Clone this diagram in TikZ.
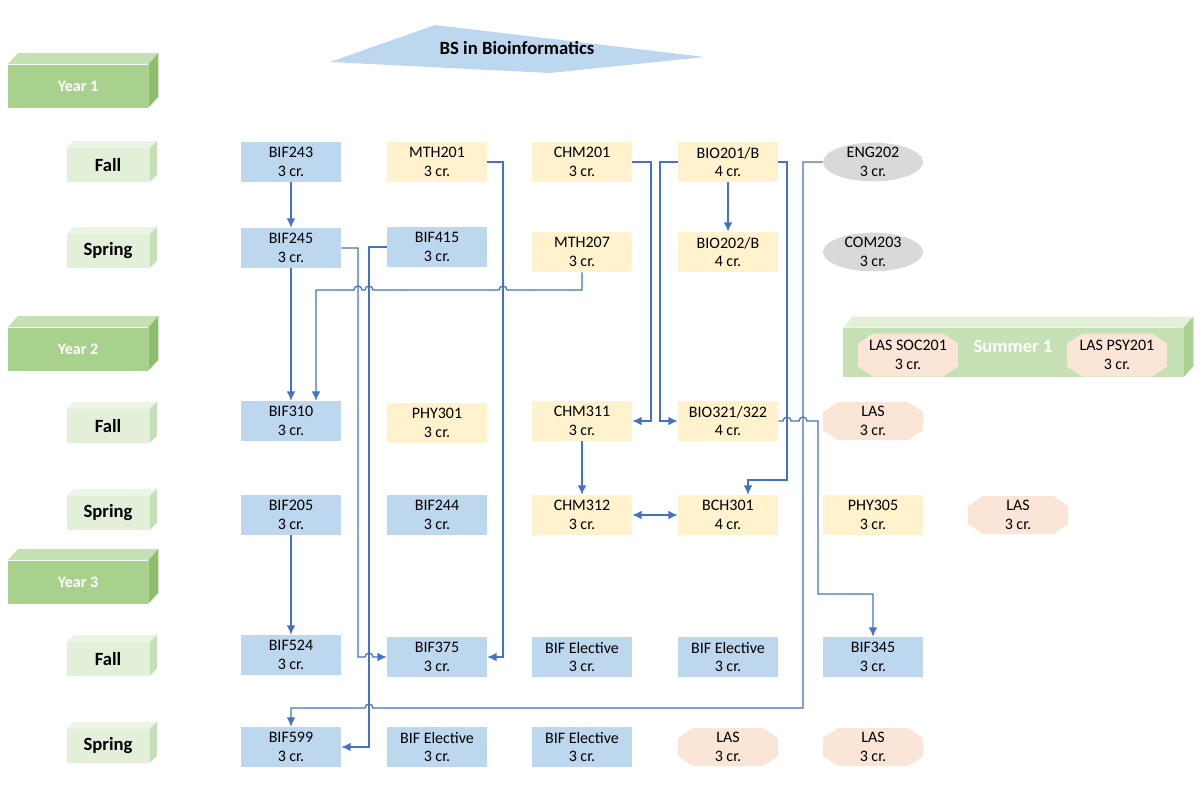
\documentclass[tikz,border=0pt]{standalone}
\usepackage{fontspec}
\setmainfont{Carlito}
\usetikzlibrary{arrows.meta}

\definecolor{bifblue}{HTML}{BDD7EE}
\definecolor{coreyellow}{HTML}{FFF2CC}
\definecolor{genedgrey}{HTML}{D9D9D9}
\definecolor{laspeach}{HTML}{FBE5D6}
\definecolor{linkblue}{HTML}{4472C4}
\definecolor{yearfront}{HTML}{A9D18E}
\definecolor{yeartop}{HTML}{C5E0B4}
\definecolor{yearside}{HTML}{8DBF6B}
\definecolor{termfront}{HTML}{E2F0D9}
\definecolor{termtop}{HTML}{EBF5E5}
\definecolor{termside}{HTML}{C5E0B4}

\begin{document}
\begin{tikzpicture}[x=0.75pt, y=-0.75pt, >={Latex[length=7pt,width=6.5pt]},
    course/.style={minimum width=75pt, minimum height=30pt, inner sep=0pt, align=center, font=\fontsize{12}{13.8}\selectfont},
    bif/.style={course, fill=bifblue},
    core/.style={course, fill=coreyellow},
    gened/.style={course, minimum height=29pt, path picture={\fill[genedgrey] (path picture bounding box.center) ellipse [x radius=37.5pt, y radius=14.5pt];}},
    las/.style={course, minimum height=28.5pt, path picture={\fill[laspeach]
        ([xshift=11.25pt]path picture bounding box.north west) -- ([xshift=-11.25pt]path picture bounding box.north east) --
        ([yshift=-7.5pt]path picture bounding box.north east) -- ([yshift=7.5pt]path picture bounding box.south east) --
        ([xshift=-11.25pt]path picture bounding box.south east) -- ([xshift=11.25pt]path picture bounding box.south west) --
        ([yshift=7.5pt]path picture bounding box.south west) -- ([yshift=-7.5pt]path picture bounding box.north west) -- cycle;}},
    yearblock/.style={fill=yearfront, minimum width=105pt, minimum height=32.25pt, inner sep=0pt, text=white, font=\bfseries\fontsize{12}{14}\selectfont},
    termblock/.style={fill=termfront, minimum width=62.25pt, minimum height=25pt, inner sep=0pt, font=\bfseries\fontsize{14}{16}\selectfont},
    link/.style={draw=linkblue, line width=1pt}]

    \useasboundingbox (0,0) rectangle (1200,800);

    % title
    \fill[bifblue] (330,62) -- (435,25) -- (705,57) -- (550,73) -- cycle;
    \node[font=\bfseries\fontsize{14}{16}\selectfont] (title) at (517,48) {BS in Bioinformatics};

    % years
    \node[yearblock] (y1) at (78,86) {Year 1};
    \node[yearblock] (y2) at (78,349) {Year 2};
    \node[yearblock] (y3) at (78,582) {Year 3};
    \foreach \n in {y1,y2,y3} {
        \fill[yeartop] (\n.north west) -- ([shift={(10,-11)}]\n.north west) -- ([shift={(10,-11)}]\n.north east) -- (\n.north east) -- cycle;
        \fill[yearside] (\n.north east) -- ([shift={(10,-11)}]\n.north east) -- ([shift={(10,-11)}]\n.south east) -- (\n.south east) -- cycle;
    }

    % terms
    \node[termblock] (t1) at (108,165) {Fall};
    \node[termblock] (t2) at (108,251) {Spring};
    \node[termblock] (t3) at (108,426) {Fall};
    \node[termblock] (t4) at (108,513) {Spring};
    \node[termblock] (t5) at (108,659) {Fall};
    \node[termblock] (t6) at (108,746) {Spring};
    \foreach \n in {t1,t2,t3,t4,t5,t6} {
        \fill[termtop] (\n.north west) -- ([shift={(7,-7)}]\n.north west) -- ([shift={(7,-7)}]\n.north east) -- (\n.north east) -- cycle;
        \fill[termside] (\n.north east) -- ([shift={(7,-7)}]\n.north east) -- ([shift={(7,-7)}]\n.south east) -- (\n.south east) -- cycle;
    }

    % summer
    \node[fill=yeartop, minimum width=255pt, minimum height=36.75pt, inner sep=0pt] (s1) at (1013,352.5) {};
    \fill[termfront] (s1.north west) -- ([shift={(10,-11)}]s1.north west) -- ([shift={(10,-11)}]s1.north east) -- (s1.north east) -- cycle;
    \fill[yearfront] (s1.north east) -- ([shift={(10,-11)}]s1.north east) -- ([shift={(10,-11)}]s1.south east) -- (s1.south east) -- cycle;
    \node[text=white, font=\bfseries\fontsize{14}{16}\selectfont] (s1label) at (1013,346) {Summer 1};
    \node[las, minimum height=32.25pt] (soc201) at (908,355) {LAS SOC201\\3 cr.};
    \node[las, minimum height=32.25pt] (psy201) at (1117,355) {LAS PSY201\\3 cr.};

    % year 1
    \node[bif] (bif243) at (291,162) {BIF243\\3 cr.};
    \node[core] (mth201) at (437,162) {MTH201\\3 cr.};
    \node[core] (chm201) at (582,162) {CHM201\\3 cr.};
    \node[core] (bio201) at (728,162) {BIO201/B\\4 cr.};
    \node[gened] (eng202) at (873,162) {ENG202\\3 cr.};

    \node[bif] (bif245) at (291,248) {BIF245\\3 cr.};
    \node[bif] (bif415) at (437,247) {BIF415\\3 cr.};
    \node[core] (mth207) at (582,252) {MTH207\\3 cr.};
    \node[core] (bio202) at (728,252) {BIO202/B\\4 cr.};
    \node[gened] (com203) at (873,252) {COM203\\3 cr.};

    % year 2
    \node[bif] (bif310) at (291,421) {BIF310\\3 cr.};
    \node[core] (phy301) at (437,423) {PHY301\\3 cr.};
    \node[core] (chm311) at (582,421) {CHM311\\3 cr.};
    \node[core] (bio321) at (728,421) {BIO321/322\\4 cr.};
    \node[las] (las1) at (873,421) {LAS\\3 cr.};

    \node[bif] (bif205) at (291,515) {BIF205\\3 cr.};
    \node[bif] (bif244) at (437,515) {BIF244\\3 cr.};
    \node[core] (chm312) at (582,515) {CHM312\\3 cr.};
    \node[core] (bch301) at (728,515) {BCH301\\4 cr.};
    \node[core] (phy305) at (873,515) {PHY305\\3 cr.};
    \node[las] (las2) at (1018,515) {LAS\\3 cr.};

    % year 3
    \node[bif] (bif524) at (291,655) {BIF524\\3 cr.};
    \node[bif] (bif375) at (437,657) {BIF375\\3 cr.};
    \node[bif] (elec1) at (582,657) {BIF Elective\\3 cr.};
    \node[bif] (elec2) at (728,657) {BIF Elective\\3 cr.};
    \node[bif] (bif345) at (873,657) {BIF345\\3 cr.};

    \node[bif] (bif599) at (291,747) {BIF599\\3 cr.};
    \node[bif] (elec3) at (437,747) {BIF Elective\\3 cr.};
    \node[bif] (elec4) at (582,747) {BIF Elective\\3 cr.};
    \node[las] (las3) at (728,747) {LAS\\3 cr.};
    \node[las] (las4) at (873,747) {LAS\\3 cr.};

    % straight prerequisites
    \draw[link, ->] (bif243) -- (bif245);
    \draw[link, ->] (bif245) -- (bif310);
    \draw[link, ->] (bif205) -- (bif524);
    \draw[link, ->] (bio201) -- (bio202);
    \draw[link, ->] (chm311) -- (chm312);
    \draw[link, <->] (chm312) -- (bch301);

    % routed prerequisites
    \draw[link, ->] (mth207.south) -- (582,290) -- (507,290) arc[start angle=0, end angle=180, radius=3pt]
        -- (373,290) arc[start angle=0, end angle=180, radius=3pt]
        -- (362,290) arc[start angle=0, end angle=180, radius=3pt]
        -- (316,290) -- ([xshift=18.75pt]bif310.north);
    \draw[link, ->] (bif245.east) -- (358,248) -- (358,657) -- (365,657) arc[start angle=180, end angle=0, radius=3pt] -- (bif375.west);
    \draw[link, ->] (bif415.west) -- (369,247) -- (369,747) -- (bif599.east);
    \draw[link, ->] (mth201.east) -- (503,162) -- (503,657) -- (bif375.east);
    \draw[link, ->] (chm201.east) -- (651,162) -- (651,421) -- (chm311.east);
    \draw[link, ->] (bio201.west) -- (660,162) -- (660,421) -- (bio321.west);
    \draw[link, ->] (bio201.east) -- (787,162) -- (787,480) -- (748,480) -- ([xshift=15pt]bch301.north);
    \draw[link, ->] (eng202.west) -- (803,162) -- (803,708) -- (373,708) arc[start angle=0, end angle=180, radius=3pt]
        -- (291,708) -- (bif599.north);
    \draw[link, ->] (bio321.east) -- (783,421) arc[start angle=180, end angle=0, radius=3pt]
        -- (799,421) arc[start angle=180, end angle=0, radius=3pt]
        -- (818,421) -- (818,594) -- (873,594) -- (bif345.north);
\end{tikzpicture}
\end{document}
